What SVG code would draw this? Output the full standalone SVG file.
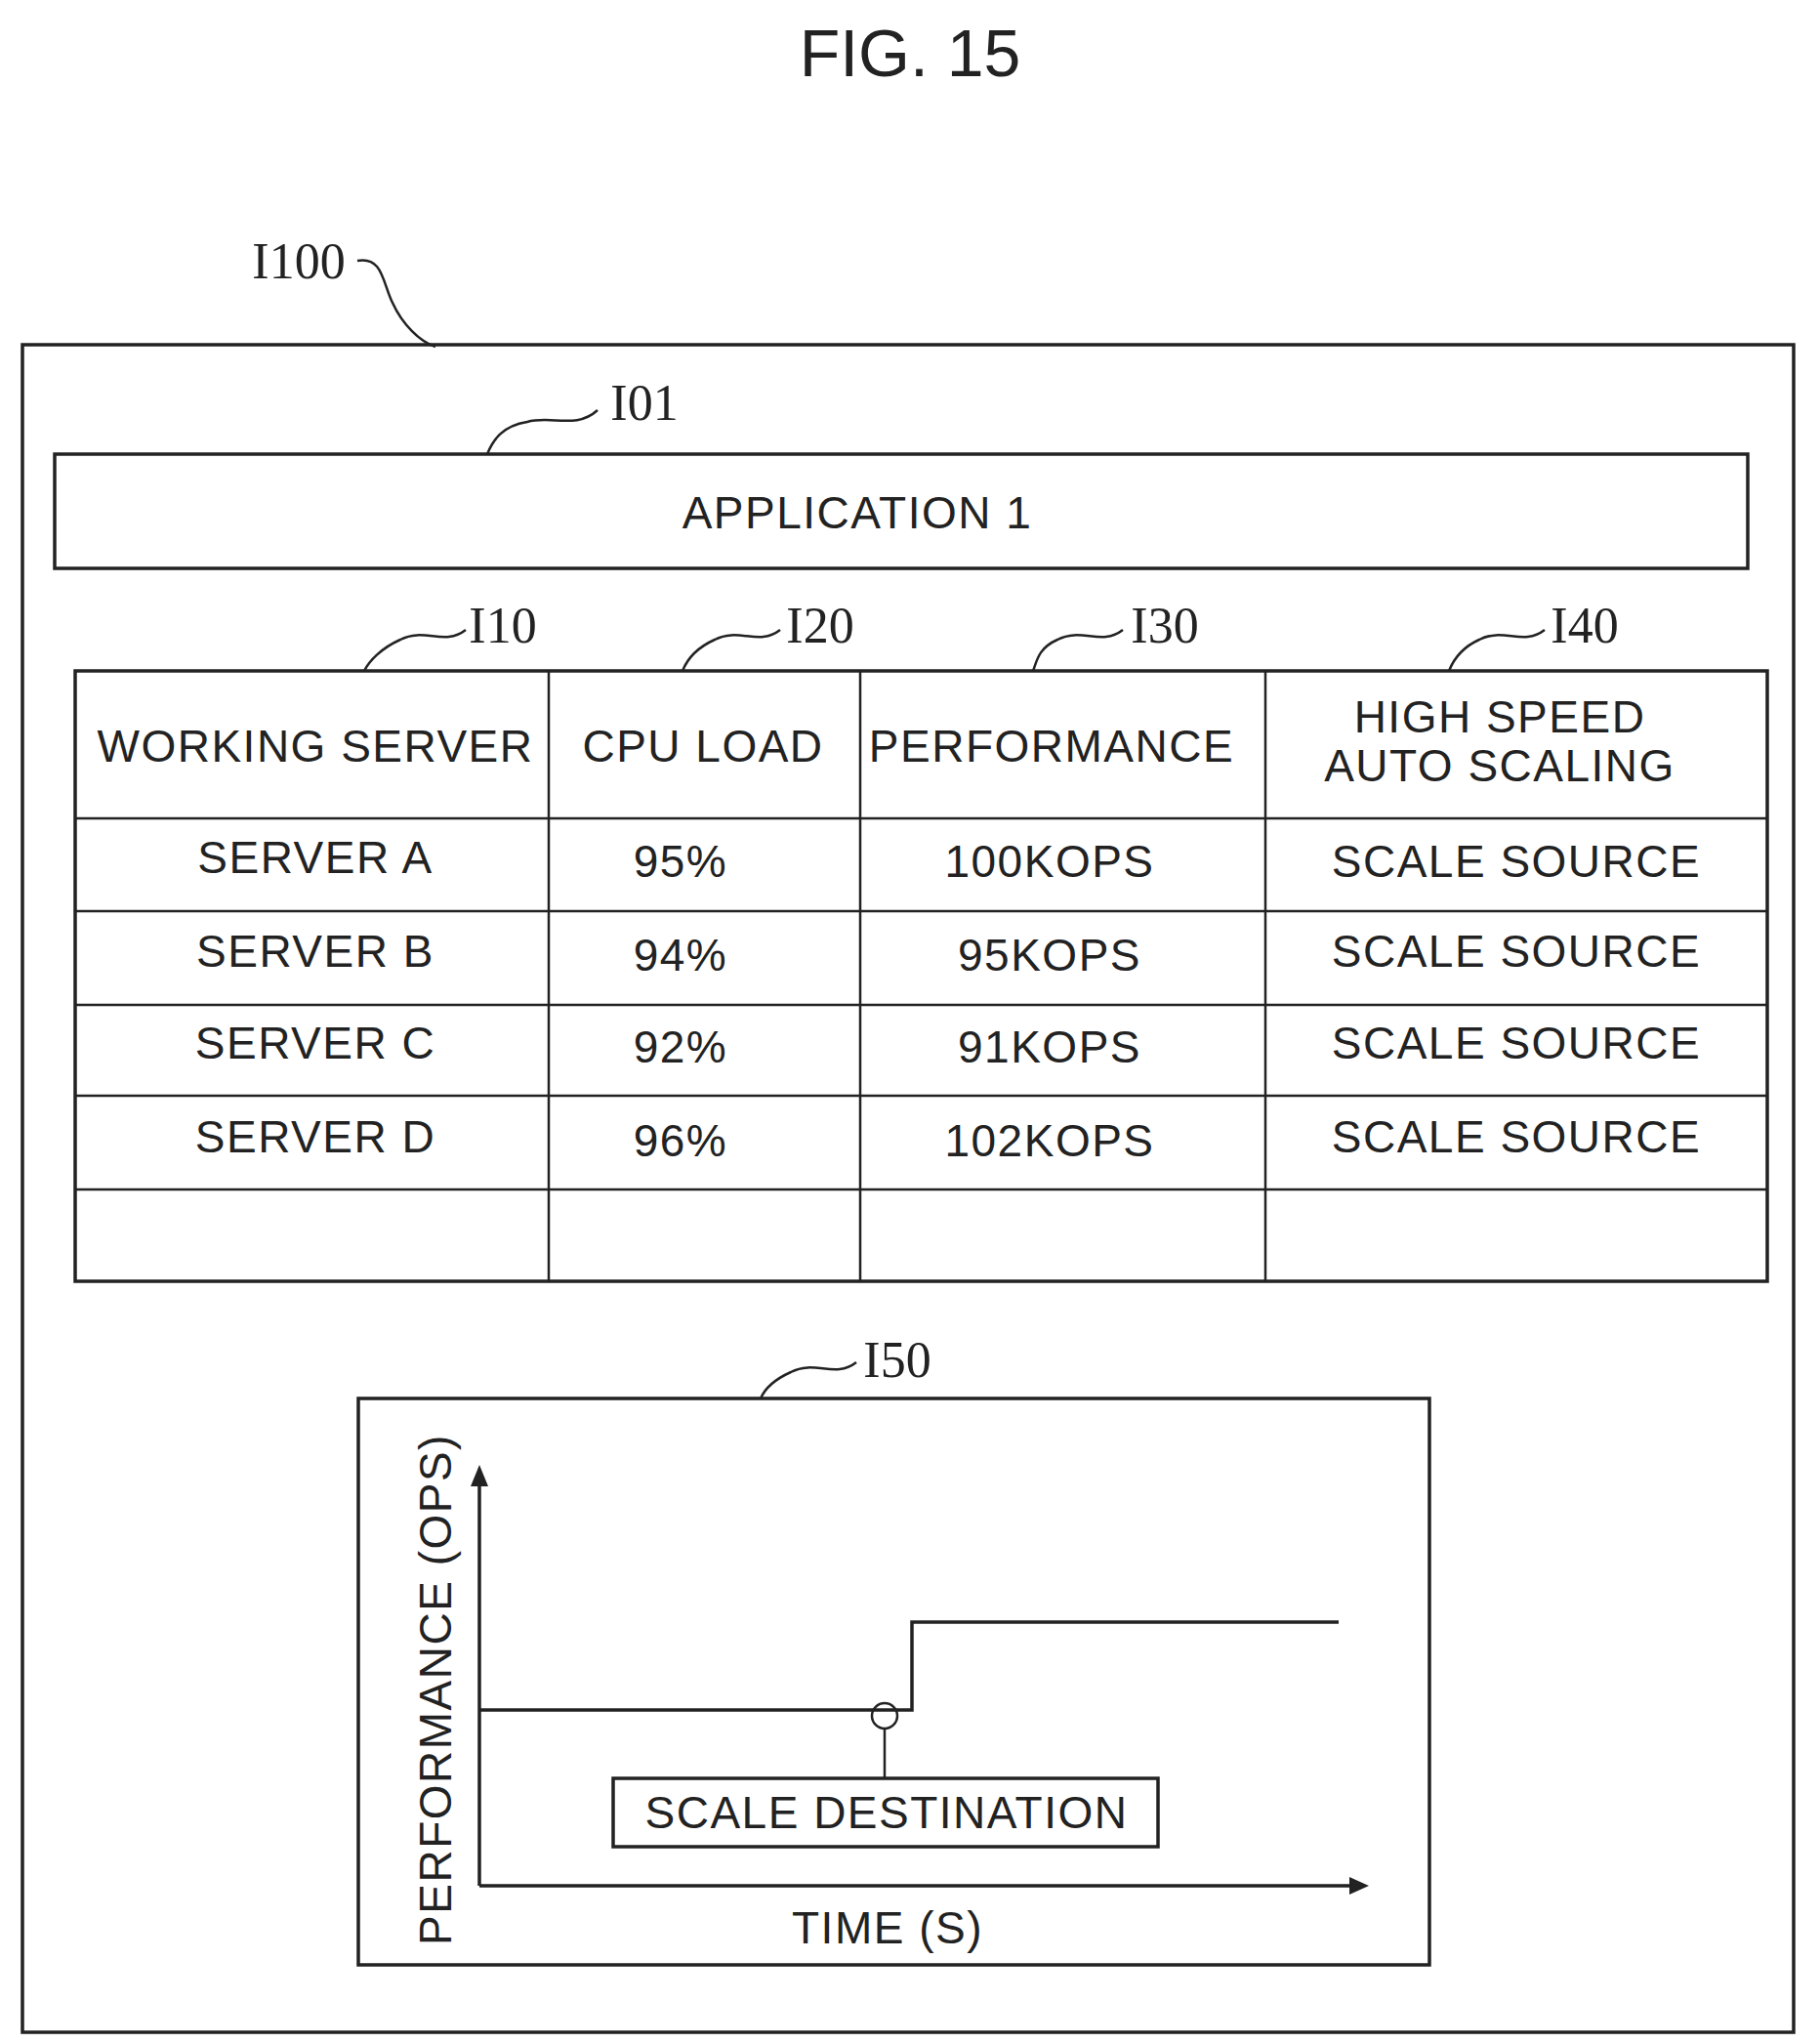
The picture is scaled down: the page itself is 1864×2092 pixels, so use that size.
<svg xmlns="http://www.w3.org/2000/svg" width="1864" height="2092" viewBox="0 0 1864 2092">
<style>
text{font-family:"Liberation Sans",Arial,sans-serif;fill:#222;text-anchor:middle}
.t{font-size:46px;letter-spacing:1.5px}
.r{font-family:"Liberation Serif",serif;font-size:52px}
.b{fill:none;stroke:#222;stroke-width:3.5}
.l{fill:none;stroke:#222;stroke-width:2.5}
</style>
<rect width="1864" height="2092" fill="#fff"/>
<text x="932" y="78" style="font-size:68px">FIG. 15</text>
<g id="I100"><rect class="b" x="23" y="353" width="1814" height="1728"/><text class="r" x="306" y="285">I100</text></g>
<g id="I101"><rect class="b" x="56" y="465" width="1734" height="117"/><text class="t" x="878" y="541">APPLICATION 1</text><text class="r" x="660" y="430">I01</text></g>
<g id="table">
<rect class="b" x="77" y="687" width="1733" height="625"/>
<path class="l" d="M562 687V1312M881 687V1312M1296 687V1312M77 838H1810M77 933H1810M77 1029H1810M77 1122H1810M77 1218H1810"/>
<text class="t" x="323" y="780">WORKING SERVER</text><text class="t" x="720" y="780">CPU LOAD</text><text class="t" x="1077" y="780">PERFORMANCE</text>
<text class="t" x="1536" y="750">HIGH SPEED</text><text class="t" x="1536" y="800">AUTO SCALING</text>
<text class="t" x="323" y="894">SERVER A</text><text class="t" x="697" y="898">95%</text><text class="t" x="1075" y="898">100KOPS</text><text class="t" x="1553" y="898">SCALE SOURCE</text>
<text class="t" x="323" y="990">SERVER B</text><text class="t" x="697" y="994">94%</text><text class="t" x="1075" y="994">95KOPS</text><text class="t" x="1553" y="990">SCALE SOURCE</text>
<text class="t" x="323" y="1084">SERVER C</text><text class="t" x="697" y="1088">92%</text><text class="t" x="1075" y="1088">91KOPS</text><text class="t" x="1553" y="1084">SCALE SOURCE</text>
<text class="t" x="323" y="1180">SERVER D</text><text class="t" x="697" y="1184">96%</text><text class="t" x="1075" y="1184">102KOPS</text><text class="t" x="1553" y="1180">SCALE SOURCE</text>
<text class="r" x="515" y="658">I10</text><text class="r" x="840" y="658">I20</text><text class="r" x="1193" y="658">I30</text><text class="r" x="1623" y="658">I40</text>
</g>
<g id="I150">
<rect class="b" x="367" y="1432" width="1097" height="580"/>
<text class="r" x="919" y="1410">I50</text>
<text class="t" x="909" y="1990">TIME (S)</text>
<text class="t" transform="translate(462 1730) rotate(-90)">PERFORMANCE (OPS)</text>
<path class="b" d="M491 1751H934V1661H1371"/>
<circle class="l" cx="906" cy="1757" r="13" fill="#fff"/>
<path class="l" d="M906 1770V1821"/>
<rect class="b" x="628" y="1821" width="558" height="70"/>
<text class="t" x="908" y="1872">SCALE DESTINATION</text>
</g>
<g id="connectors">
<path class="b" d="M491 1931V1515M491 1931H1390"/>
<path d="M491 1500L482 1522H500Z M1402 1931L1382 1922V1940Z" fill="#222"/>
<path class="l" d="M366 267C392 262 392 290 402 310C412 332 430 350 446 355"/>
<path class="l" d="M612 420C590 440 565 425 540 432C515 436 505 450 499 465"/>
<path class="l" d="M477 645C455 662 435 642 410 655C390 664 378 677 373 687"/>
<path class="l" d="M799 645C777 662 757 642 732 655C712 664 703 677 699 687"/>
<path class="l" d="M1150 645C1128 662 1108 642 1083 655C1063 664 1062 677 1058 687"/>
<path class="l" d="M1582 645C1560 662 1540 642 1515 655C1495 664 1488 677 1484 687"/>
<path class="l" d="M877 1395C855 1412 835 1392 810 1405C790 1414 782 1425 779 1432"/>
</g>
</svg>
